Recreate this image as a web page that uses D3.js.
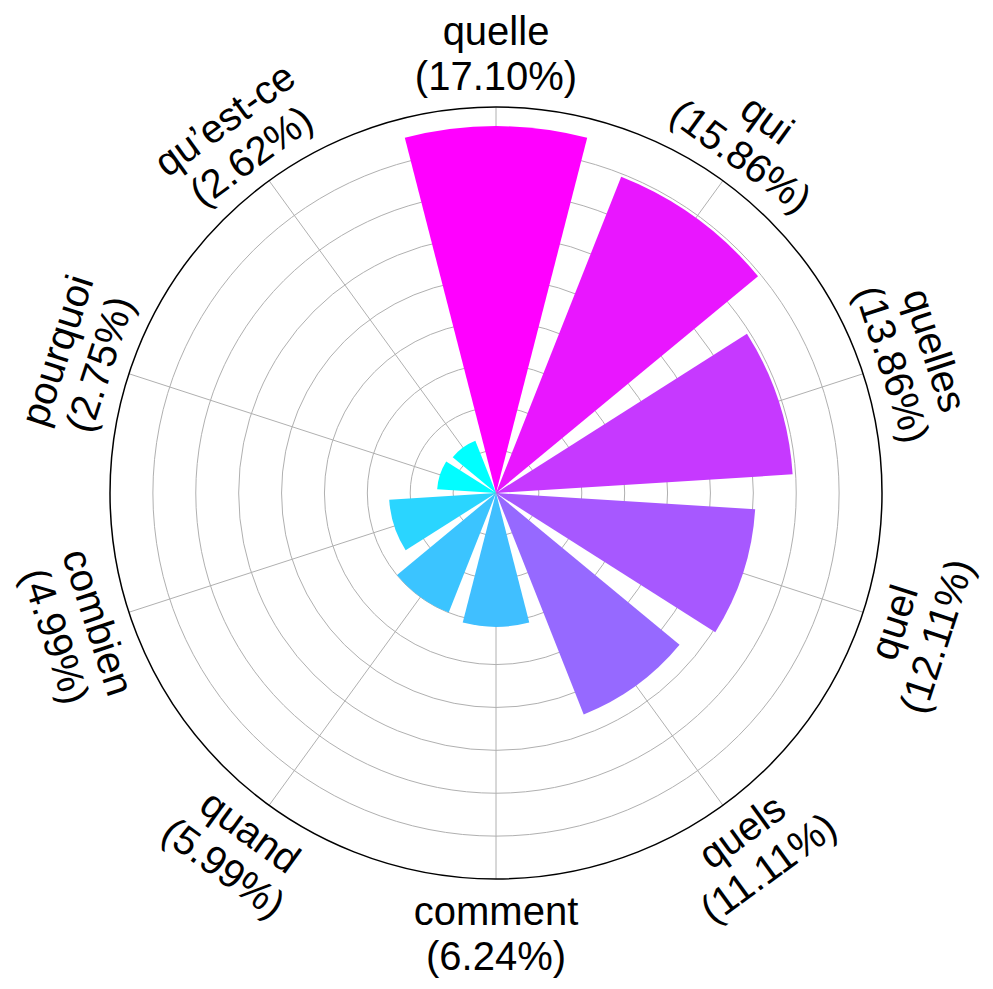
<!DOCTYPE html>
<html>
<head>
<meta charset="utf-8">
<script src="https://cdn.jsdelivr.net/npm/d3@7"></script>
<style>
  html, body { margin: 0; padding: 0; background: #fff; }
  svg { display: block; }
</style>
</head>
<body>
<svg id="chart" width="993" height="989"></svg>
<script>
const categories = ["quelle", "qui", "quelles", "quel", "quels", "comment", "quand", "combien", "pourquoi", "qu’est-ce"];
const percentages = [17.10, 15.86, 13.86, 12.11, 11.11, 6.24, 5.99, 4.99, 2.75, 2.62];
const ringTicks = [2, 4, 6, 8, 10, 12, 14, 16];
const radialMax = 18;

const W = 993, H = 989;
const cx = 496, cy = 493, R = 386;
const labelR = 440, fontSize = 40, pitch = 45;

const svg = d3.select("#chart");
const g = svg.append("g").attr("transform", `translate(${cx},${cy})`);

const r = d3.scaleLinear().domain([0, radialMax]).range([0, R]);
const step = 2 * Math.PI / categories.length;
const angle = d3.scaleLinear().domain([0, categories.length]).range([0, 2 * Math.PI]);
const color = d3.scaleSequential(t => d3.rgb(255 * t, 255 * (1 - t), 255).formatHex())
  .domain([d3.min(percentages), d3.max(percentages)]);

// rings
g.selectAll("circle.ring").data(ringTicks).join("circle")
  .attr("class", "ring")
  .attr("r", d => r(d))
  .attr("fill", "none").attr("stroke", "#b0b0b0").attr("stroke-width", 1);

// radial grid lines
g.selectAll("line.spoke").data(categories).join("line")
  .attr("class", "spoke")
  .attr("x1", 0).attr("y1", 0)
  .attr("x2", (d, i) => R * Math.sin(angle(i)))
  .attr("y2", (d, i) => -R * Math.cos(angle(i)))
  .attr("stroke", "#b0b0b0").attr("stroke-width", 1);

// bars
const arc = d3.arc()
  .innerRadius(0)
  .outerRadius(d => r(d.v))
  .startAngle(d => angle(d.i) - 0.4 * step)
  .endAngle(d => angle(d.i) + 0.4 * step);

g.selectAll("path.bar").data(percentages.map((v, i) => ({ v, i }))).join("path")
  .attr("class", "bar")
  .attr("d", arc)
  .attr("fill", d => color(d.v));

// outer circle
g.append("circle").attr("r", r(radialMax))
  .attr("fill", "none").attr("stroke", "#000").attr("stroke-width", 1.5);

// labels
const labels = g.selectAll("g.lab").data(categories).join("g")
  .attr("class", "lab")
  .attr("transform", (d, i) => {
    const a = angle(i) * 180 / Math.PI;
    const x = labelR * Math.sin(angle(i));
    const y = -labelR * Math.cos(angle(i));
    let rot = a;
    if (a > 90 && a < 270) rot = a - 180;
    else if (a >= 270) rot = a - 360;
    return `translate(${x},${y}) rotate(${rot})`;
  });

const txt = labels.append("text")
  .attr("text-anchor", "middle")
  .attr("font-family", "'Liberation Sans', Arial, sans-serif")
  .attr("font-size", fontSize)
  .attr("fill", "#000");

txt.append("tspan").attr("x", 0).attr("y", -pitch / 2 + 0.36 * fontSize).text(d => d);
txt.append("tspan").attr("x", 0).attr("y", pitch / 2 + 0.36 * fontSize)
  .text((d, i) => `(${percentages[i].toFixed(2)}%)`);
</script>
</body>
</html>
